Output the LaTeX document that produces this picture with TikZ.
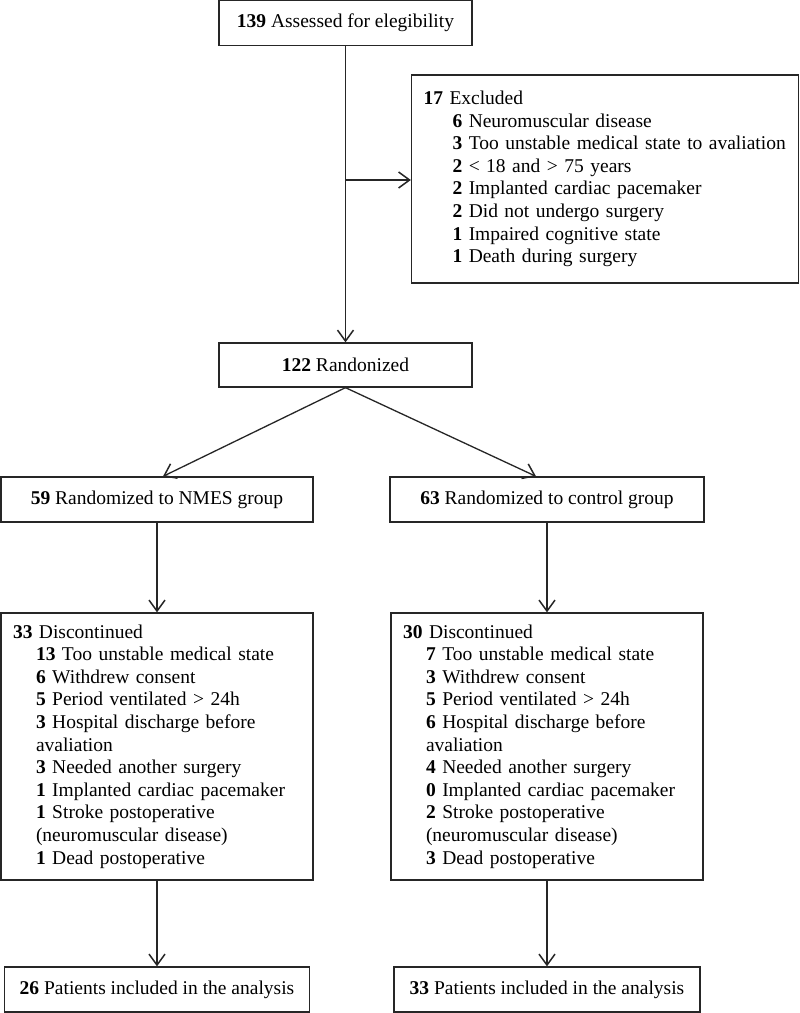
\documentclass[tikz,border=0pt]{standalone}
\usepackage{fontspec}
\setmainfont{Liberation Serif}
\usetikzlibrary{arrows.meta,calc}
\begin{document}
\begin{tikzpicture}[x=1pt,y=-1pt,
  box/.style={draw=black!85,line width=1.3pt,inner sep=0pt,font=\fontsize{19.5}{22.6}\selectfont},
  listbox/.style={box,align=left,inner xsep=12pt,inner ysep=0pt},
  arr/.style={draw=black!85,line width=1.3pt,-{Straight Barb[length=11pt,width=16pt,line width=1.5pt]}}]
\useasboundingbox (0,0) rectangle (800,1013);
\fill[white] (0,0) rectangle (800,1013);
\def\ind#1{\hspace*{#1pt}}
\node[box,minimum width=253pt,minimum height=45pt] (a) at (345.5,23) {\textbf{139} Assessed for elegibility};
\node[listbox,text width=363pt,minimum height=208pt] (excl) at (605,179) {%
\mbox{\textbf{17} Excluded}\\
\mbox{\ind{29}\textbf{6} Neuromuscular disease}\\
\mbox{\ind{29}\textbf{3} Too unstable medical state to avaliation}\\
\mbox{\ind{29}\textbf{2} < 18 and > 75 years}\\
\mbox{\ind{29}\textbf{2} Implanted cardiac pacemaker}\\
\mbox{\ind{29}\textbf{2} Did not undergo surgery}\\
\mbox{\ind{29}\textbf{1} Impaired cognitive state}\\
\mbox{\ind{29}\textbf{1} Death during surgery}};
\node[box,minimum width=253pt,minimum height=44pt] (r) at (345.5,365) {\textbf{122} Randonized};
\node[box,minimum width=312pt,minimum height=45pt] (n) at (157,499.5) {\textbf{59} Randomized to NMES group};
\node[box,minimum width=314pt,minimum height=45pt] (c) at (547,499.5) {\textbf{63} Randomized to control group};
\node[listbox,text width=288pt,minimum height=267pt] (dn) at (157,746.5) {%
\textbf{33} Discontinued\\
\ind{23}\textbf{13} Too unstable medical state\\
\ind{23}\textbf{6} Withdrew consent\\
\ind{23}\textbf{5} Period ventilated > 24h\\
\ind{23}\textbf{3} Hospital discharge before\\
\ind{23}avaliation\\
\ind{23}\textbf{3} Needed another surgery\\
\ind{23}\textbf{1} Implanted cardiac pacemaker\\
\ind{23}\textbf{1} Stroke postoperative\\
\ind{23}(neuromuscular disease)\\
\ind{23}\textbf{1} Dead postoperative};
\node[listbox,text width=288pt,minimum height=267pt] (dc) at (547,746.5) {%
\textbf{30} Discontinued\\
\ind{23}\textbf{7} Too unstable medical state\\
\ind{23}\textbf{3} Withdrew consent\\
\ind{23}\textbf{5} Period ventilated > 24h\\
\ind{23}\textbf{6} Hospital discharge before\\
\ind{23}avaliation\\
\ind{23}\textbf{4} Needed another surgery\\
\ind{23}\textbf{0} Implanted cardiac pacemaker\\
\ind{23}\textbf{2} Stroke postoperative\\
\ind{23}(neuromuscular disease)\\
\ind{23}\textbf{3} Dead postoperative};
\node[box,minimum width=305pt,minimum height=45pt] (fn) at (157,989.5) {\textbf{26} Patients included in the analysis};
\node[box,minimum width=306pt,minimum height=45pt] (fc) at (547,989.5) {\textbf{33} Patients included in the analysis};
\coordinate (br) at (345.5,180);
\draw[arr] (a.south) -- (r.north);
\draw[arr] (br) -- (br -| excl.west);
\draw[arr] (r.south) -- ($(n.north)+(6,0)$);
\draw[arr] (r.south) -- ($(c.north)+(-11,0)$);
\draw[arr] (n.south) -- (dn.north);
\draw[arr] (c.south) -- (dc.north);
\draw[arr] (dn.south) -- (fn.north);
\draw[arr] (dc.south) -- (fc.north);
\end{tikzpicture}
\end{document}
